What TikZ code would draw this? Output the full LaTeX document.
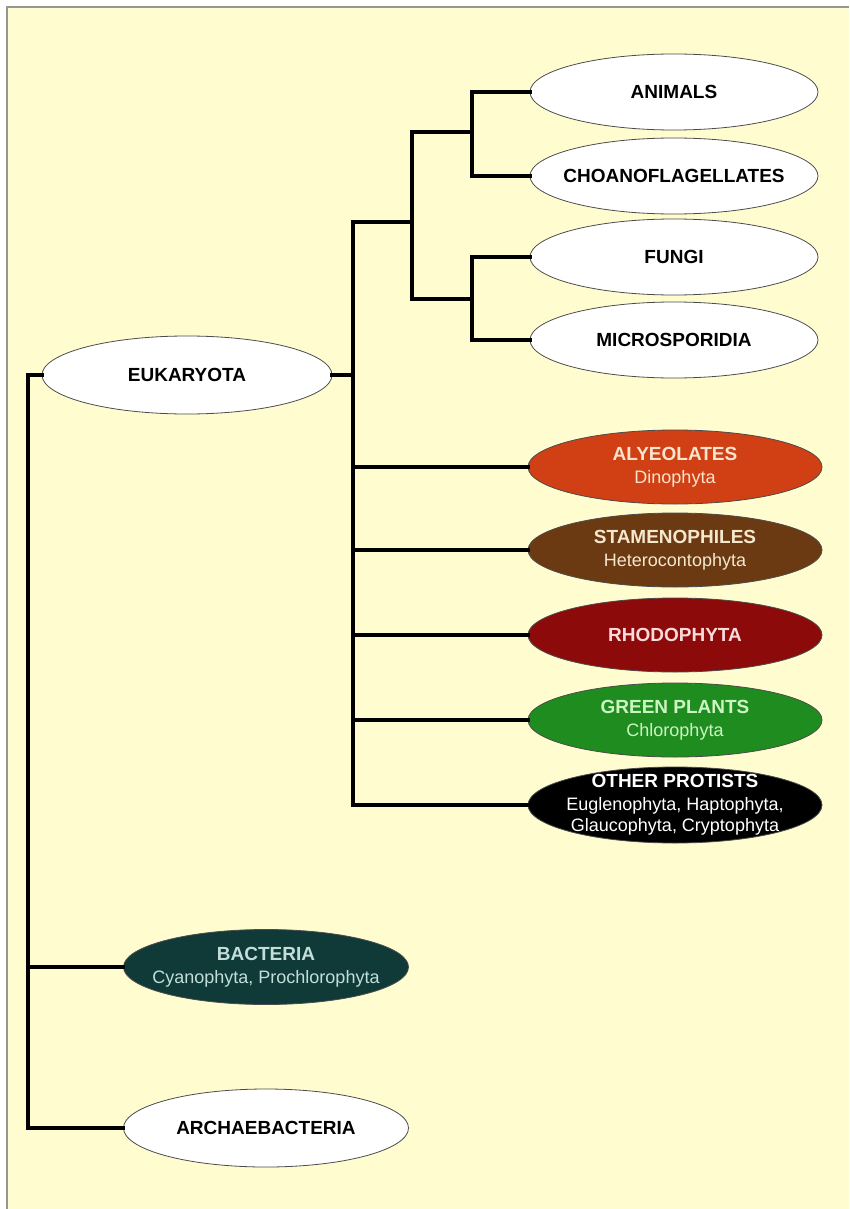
\documentclass[tikz,border=0pt]{standalone}
\usepackage{fontspec}
\setmainfont{Liberation Sans}
\usetikzlibrary{shapes.geometric}
\definecolor{bgyellow}{RGB}{255,253,208}
\definecolor{framegray}{RGB}{150,150,150}
\definecolor{alvfill}{RGB}{208,64,20}
\definecolor{alvtext}{RGB}{250,228,205}
\definecolor{stafill}{RGB}{107,58,18}
\definecolor{statext}{RGB}{245,232,205}
\definecolor{rhofill}{RGB}{140,10,10}
\definecolor{rhotext}{RGB}{250,218,218}
\definecolor{grnfill}{RGB}{30,140,30}
\definecolor{grntext}{RGB}{205,245,195}
\definecolor{othfill}{RGB}{0,0,0}
\definecolor{bacfill}{RGB}{15,58,56}
\definecolor{bactext}{RGB}{195,222,218}
\newcommand{\subtxt}[1]{{\fontsize{18}{22}\selectfont\mdseries #1}}
\tikzset{
  taxon/.style={ellipse, draw=black!70, line width=0.8pt, inner sep=-40pt,
    minimum width=288pt, minimum height=76pt, align=center,
    font=\fontsize{19}{23}\selectfont\bfseries},
  whitetaxon/.style={taxon, fill=white, text=black},
  coltaxon/.style={taxon, minimum width=294pt, minimum height=74pt},
  branch/.style={line width=4pt, black, line join=miter, line cap=rect},
}
\begin{document}
\begin{tikzpicture}[x=1pt,y=-1pt]
\useasboundingbox (0,0) rectangle (849,1209);
\fill[white] (0,0) rectangle (849,1209);
\fill[bgyellow] (7,7) rectangle (849,1209);
\draw[framegray, line width=1.5pt] (7,1209) -- (7,7) -- (849,7);

% nodes
\node[whitetaxon] (animals) at (674,92) {ANIMALS};
\node[whitetaxon] (choano) at (674,176) {CHOANOFLAGELLATES};
\node[whitetaxon] (fungi) at (674,257) {FUNGI};
\node[whitetaxon] (micro) at (674,340) {MICROSPORIDIA};
\node[whitetaxon, minimum width=290pt, minimum height=78pt] (euk) at (187,375) {EUKARYOTA};

\node[coltaxon, fill=alvfill, text=alvtext] (alv) at (675,467) {ALYEOLATES\\\subtxt{Dinophyta}};
\node[coltaxon, fill=stafill, text=statext] (sta) at (675,550) {STAMENOPHILES\\\subtxt{Heterocontophyta}};
\node[coltaxon, fill=rhofill, text=rhotext] (rho) at (675,635) {RHODOPHYTA};
\node[coltaxon, fill=grnfill, text=grntext] (grn) at (675,720) {GREEN PLANTS\\\subtxt{Chlorophyta}};
\node[coltaxon, fill=othfill, text=white, minimum height=76pt] (oth) at (675,805) {OTHER PROTISTS\\[0pt]\subtxt{Euglenophyta, Haptophyta,}\\[-2pt]\subtxt{Glaucophyta, Cryptophyta}};

\node[taxon, fill=bacfill, text=bactext, minimum width=285pt, minimum height=75pt] (bac) at (266,967) {BACTERIA\\\subtxt{Cyanophyta, Prochlorophyta}};
\node[whitetaxon, minimum width=285pt, minimum height=78pt] (arch) at (266,1128) {ARCHAEBACTERIA};

% junction points
\coordinate (j1) at (472,132);
\coordinate (j2) at (472,299);
\coordinate (j3) at (412,222);
\coordinate (j4) at (353,222);
\coordinate (root) at (28,375);

% connectors
\draw[branch] (animals.west) -| (j1) |- (choano.west);
\draw[branch] (fungi.west) -| (j2) |- (micro.west);
\draw[branch] (j1) -| (j3) |- (j2);
\draw[branch] (j3) -- (j4) |- (oth.west);
\draw[branch] (euk.east) -- (euk.east -| j4);
\draw[branch] (alv.west) -- (alv.west -| j4);
\draw[branch] (sta.west) -- (sta.west -| j4);
\draw[branch] (rho.west) -- (rho.west -| j4);
\draw[branch] (grn.west) -- (grn.west -| j4);
\draw[branch] (euk.west) -- (root) |- (arch.west);
\draw[branch] (bac.west) -- (bac.west -| root);
\end{tikzpicture}
\end{document}
